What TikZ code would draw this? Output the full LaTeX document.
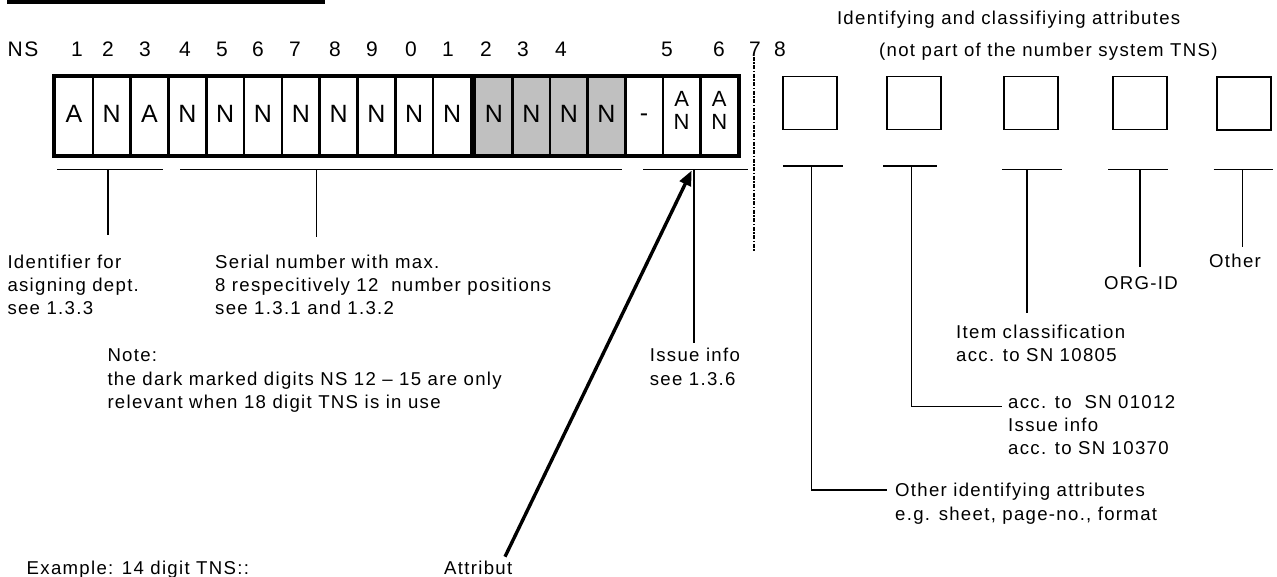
\documentclass[tikz,border=0pt]{standalone}
\usepackage{fontspec}
\setmainfont{Liberation Sans}[LetterSpace=7]
\newfontfamily\cellfont{Liberation Sans}
\usetikzlibrary{arrows.meta}
\definecolor{shade}{RGB}{192,192,192}

\begin{document}
\begin{tikzpicture}[x=1pt,y=-1pt,
  thinline/.style={line width=1.5pt},
  cellbox/.style={draw,line width=2.6pt,minimum width=#1,minimum height=78pt,inner sep=0pt},
  frame/.style={draw,line width=3.2pt},
  cellchar/.style={anchor=base,inner sep=0pt,font=\cellfont\fontsize{25}{25}\selectfont},
  smallchar/.style={anchor=base,inner sep=0pt,font=\cellfont\fontsize{22}{23.3}\selectfont},
  attrbox/.style={draw,line width=1.7pt,minimum width=54pt,minimum height=53pt,inner sep=0pt},
  numlbl/.style={anchor=base,inner sep=0pt,font=\fontsize{21}{24}\selectfont},
  % multi-line labels: the base anchor sits on the last line
  txt/.style={anchor=base west,inner sep=0pt,align=left,font=\fontsize{18.6}{23.3}\selectfont},
  divider/.style={line width=2.2pt,dash pattern=on 4pt off 1.5pt on 1.5pt off 1.5pt},
  pointer/.style={line width=3.4pt,-{Triangle[length=15pt,width=12pt]}}
]
\useasboundingbox (0,0) rectangle (1277,577);

% heading rule
\fill (7,0) rectangle (325,4);

% position numbers
\node[numlbl] (ns) at (23,56.7) {NS};
\foreach \d/\x [count=\k] in {1/77,2/108,3/145,4/185,5/222,6/258,7/295,8/335,9/372,0/411,1/448,2/486,3/523,4/561,5/667,6/719,7/755,8/780}
  \node[numlbl] (pos\k) at (\x,56.7) {\d};

% group of eleven positions
\foreach \t [count=\i] in {A,N,A,N,N,N,N,N,N,N,N} {
  \node[cellbox=37.818pt] (g\i) at ({55+37.818*(\i-0.5)},116) {};
  \path (g\i.center) ++(0,6.2) node[cellchar] (gc\i) {\t};
}
\draw[frame] (g1.north west) rectangle (g11.south east);

% group of seven positions, first four shaded
\foreach \i in {1,...,4}
  \node[cellbox=37.571pt,fill=shade] (h\i) at ({475+37.571*(\i-0.5)},116) {};
\foreach \i in {5,6,7}
  \node[cellbox=37.571pt] (h\i) at ({475+37.571*(\i-0.5)},116) {};
\foreach \i in {1,...,4}
  \path (h\i.center) ++(0,6.2) node[cellchar] (hc\i) {N};
\path (h5.center) ++(0,5.2) node[cellchar] (hc5) {-};
\foreach \i in {6,7} {
  \path (h\i.center) ++(0,-9.3) node[smallchar] (ha\i) {A};
  \path (h\i.center) ++(0,14) node[smallchar] (hn\i) {N};
}
\draw[frame] (h1.north west) rectangle (h7.south east);

% separation line
\coordinate (dtop) at (754,57);
\coordinate (dbot) at (754,252);
\draw[divider] (dtop) -- (dbot);

% attribute boxes
\node[attrbox] (a1) at (809.7,103) {};
\node[attrbox] (a2) at (913.9,103) {};
\node[attrbox] (a3) at (1030.8,103) {};
\node[attrbox] (a4) at (1140,103) {};
\node[attrbox] (a5) at (1244.3,103.5) {};

% headings
\node[txt] (hdr1) at (836.8,25) {Identifying and classifiying attributes};
\node[txt] (hdr2) at (879,56.7) {(not part of the number system TNS)};

% brackets below the code
\coordinate (b1l) at (57.3,169.3);  \coordinate (b1r) at (162.7,169.3);
\coordinate (s1t) at (108,169.3);   \coordinate (s1b) at (108,235);
\coordinate (b2l) at (180,169.3);   \coordinate (b2r) at (621.7,169.3);
\coordinate (s2t) at (316.5,169.3); \coordinate (s2b) at (316.5,237);
\coordinate (b3l) at (643,169.3);   \coordinate (b3r) at (748,169.3);
\coordinate (s3t) at (694,169.3);   \coordinate (s3b) at (694,343.3);
\draw[thinline] (b1l) -- (b1r) (s1t) -- (s1b);
\draw[thinline] (b2l) -- (b2r) (s2t) -- (s2b);
\draw[thinline] (b3l) -- (b3r) (s3t) -- (s3b);

% brackets below the attribute boxes
\coordinate (r1l) at (782.8,166);  \coordinate (r1r) at (842.7,166);
\coordinate (r2l) at (883,166);    \coordinate (r2r) at (937,166);
\coordinate (r3l) at (1002,169.3); \coordinate (r3r) at (1062,169.3);
\coordinate (r4l) at (1108,169.3); \coordinate (r4r) at (1168,169.3);
\coordinate (r5l) at (1213.6,169.3); \coordinate (r5r) at (1273,169.3);
\foreach \i in {1,...,5} \draw[thinline] (r\i l) -- (r\i r);

\coordinate (t1) at (811.5,166);   \coordinate (k1) at (811.5,490);  \coordinate (e1) at (887,490);
\coordinate (t2) at (911.5,166);   \coordinate (k2) at (911.5,406.7); \coordinate (e2) at (1002,406.7);
\coordinate (t3) at (1027,169.3);  \coordinate (e3) at (1027,312.7);
\coordinate (t4) at (1140,169.3);  \coordinate (e4) at (1140,267.3);
\coordinate (t5) at (1242.5,169.3); \coordinate (e5) at (1242.5,246.7);
\draw[thinline] (t1) -- (k1) -- (e1);
\draw[thinline] (t2) -- (k2) -- (e2);
\draw[thinline] (t3) -- (e3);
\draw[thinline] (t4) -- (e4);
\draw[thinline] (t5) -- (e5);

% explanations (placed by the baseline of their last line)
\node[txt] (ident) at (7.3,314.9) {Identifier for\\asigning dept.\\see 1.3.3};
\node[txt] (serial) at (215,314.9) {Serial number with max.\\8 respecitively 12~ number positions\\see 1.3.1 and 1.3.2};
\node[txt] (note) at (107.3,408.3) {Note:\\the dark marked digits NS 12 – 15 are only\\relevant when 18 digit TNS is in use};
\node[txt] (issue) at (649.7,385) {Issue info\\see 1.3.6};
\node[txt] (itemcls) at (956,361.3) {Item classification\\acc. to SN 10805};
\node[txt] (accsn) at (1008,454.9) {acc. to~ SN 01012\\Issue info\\acc. to SN 10370};
\node[txt] (otherid) at (895,520) {Other identifying attributes\\e.g. sheet, page-no., format};
\node[txt,anchor=base] (orgid) at (1141,290) {ORG-ID};
\node[txt,anchor=base] (other) at (1235,267.3) {Other};
\node[txt] (example) at (26.5,574.7) {Example: 14 digit TNS::};
\node[txt] (attrib) at (444,574.7) {Attribut};

% pointer to the issue info
\coordinate (arrS) at (505,556.7);
\coordinate (arrT) at (691.7,170.5);
\draw[pointer] (arrS) -- (arrT);
\end{tikzpicture}
\end{document}
